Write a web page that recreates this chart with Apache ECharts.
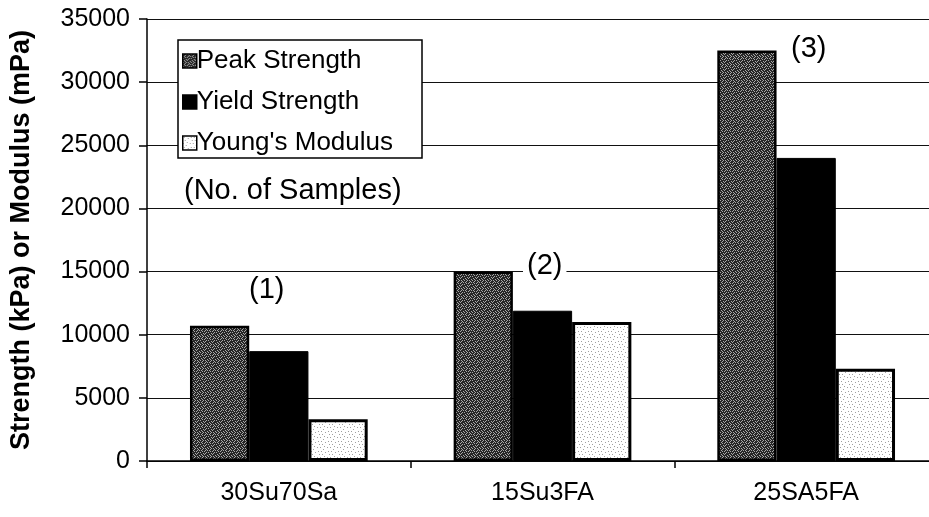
<!DOCTYPE html>
<html>
<head>
<meta charset="utf-8">
<script src="https://cdn.jsdelivr.net/npm/echarts@6/dist/echarts.min.js"></script>
<style>
  html, body { margin: 0; padding: 0; background: #fff; overflow: hidden; }
  body { width: 929px; height: 517px; }
  #chart { width: 940px; height: 517px; }
</style>
</head>
<body>
<div id="chart"></div>
<script>
// Mix designations on the category axis
const categories = ['30Su70Sa', '15Su3FA', '25SA5FA'];

// Measured properties per mix
const peakStrength = [10700, 15000, 32500];
const yieldStrength = [8700, 11900, 24000];
const youngsModulus = [3300, 11000, 7300];

// Value axis ticks
const yMin = 0;
const yMax = 35000;
const yStep = 5000;

// Annotation texts
const sampleCounts = ['(1)', '(2)', '(3)'];
const sampleNote = '(No. of Samples)';

const FONT = '"Liberation Sans", Arial, Helvetica, sans-serif';

// Halftone-style fill tiles built from bit masks
function maskPattern(rows, base, dot) {
  const c = document.createElement('canvas');
  c.width = rows[0].length; c.height = rows.length;
  const ctx = c.getContext('2d');
  ctx.fillStyle = base;
  ctx.fillRect(0, 0, c.width, c.height);
  ctx.fillStyle = dot;
  rows.forEach(function (row, y) {
    for (let x = 0; x < row.length; x++) {
      if (row[x] === '1') ctx.fillRect(x, y, 1, 1);
    }
  });
  return c;
}

const darkPattern = maskPattern([
  '10010100',
  '00100010',
  '01000101',
  '00101000',
  '10000010',
  '00010100',
  '01001000',
  '00100001'
], '#262626', '#a8a8a8');

const lightPattern = maskPattern([
  '0000000000',
  '0100000010',
  '0000010000',
  '0000000000',
  '0010000001',
  '0000000000',
  '0000100000',
  '1000000100',
  '0000000000',
  '0001000000'
], '#ffffff', '#a0a0a0');

const chart = echarts.init(document.getElementById('chart'), null, { renderer: 'canvas' });

const option = {
  backgroundColor: '#ffffff',
  animation: false,
  textStyle: { fontFamily: FONT, color: '#000' },
  grid: { left: 146, top: 19, right: 2, bottom: 56, containLabel: false },
  legend: {
    orient: 'vertical',
    left: 178,
    top: 40,
    padding: [8, 29, 2, 4],
    itemGap: 15,
    itemWidth: 14,
    itemHeight: 14,
    backgroundColor: '#ffffff',
    borderColor: '#000',
    borderWidth: 1.5,
    borderRadius: 0,
    icon: 'rect',
    textStyle: { fontFamily: FONT, fontSize: 26, color: '#000', padding: [0, 0, 0, -5] },
    itemStyle: { borderColor: '#000', borderWidth: 1.5 },
    data: ['Peak Strength', 'Yield Strength', "Young's Modulus"]
  },
  xAxis: {
    type: 'category',
    data: categories,
    axisLine: { lineStyle: { color: '#000', width: 1.5 } },
    axisTick: { show: true, length: 7, alignWithLabel: false, lineStyle: { color: '#000', width: 1.5 } },
    axisLabel: { fontFamily: FONT, fontSize: 25, color: '#000', margin: 20 }
  },
  yAxis: {
    type: 'value',
    min: yMin,
    max: yMax,
    interval: yStep,
    name: 'Strength (kPa) or Modulus (mPa)',
    nameLocation: 'middle',
    nameRotate: 90,
    nameGap: 112,
    nameTextStyle: { fontFamily: FONT, fontSize: 27, fontWeight: 'bold', color: '#000' },
    axisLine: { show: true, lineStyle: { color: '#000', width: 1.5 } },
    axisTick: { show: true, length: 8, lineStyle: { color: '#000', width: 1.5 } },
    axisLabel: {
      fontFamily: FONT, fontSize: 25, color: '#000', margin: 17,
      formatter: function (v) { return String(v); }
    },
    splitLine: { show: true, lineStyle: { color: '#111', width: 1.2 } }
  },
  series: [
    {
      name: 'Peak Strength',
      type: 'bar',
      data: peakStrength,
      barGap: '0%',
      barCategoryGap: '32.6%',
      itemStyle: {
        color: { image: darkPattern, repeat: 'repeat' },
        borderColor: '#000',
        borderWidth: 2.5
      }
    },
    {
      name: 'Yield Strength',
      type: 'bar',
      data: yieldStrength,
      barGap: '0%',
      barCategoryGap: '32.6%',
      itemStyle: { color: '#000', borderColor: '#000', borderWidth: 1 }
    },
    {
      name: "Young's Modulus",
      type: 'bar',
      data: youngsModulus,
      barGap: '0%',
      barCategoryGap: '32.6%',
      itemStyle: {
        color: { image: lightPattern, repeat: 'repeat' },
        borderColor: '#000',
        borderWidth: 3
      }
    }
  ]
};

chart.setOption(option);

// Sample-count annotations with a white backing so gridlines break around them
function annotation(text, x, y) {
  return {
    type: 'text',
    left: x,
    top: y,
    z: 100,
    style: {
      text: text,
      fontFamily: FONT,
      fontSize: 29,
      fill: '#000',
      backgroundColor: '#ffffff',
      padding: [0, 4, 0, 4]
    }
  };
}

chart.setOption({
  graphic: [
    annotation(sampleNote, 180, 176),
    annotation(sampleCounts[0], 245, 275),
    annotation(sampleCounts[1], 523, 251),
    annotation(sampleCounts[2], 787, 34)
  ]
});
</script>
</body>
</html>
